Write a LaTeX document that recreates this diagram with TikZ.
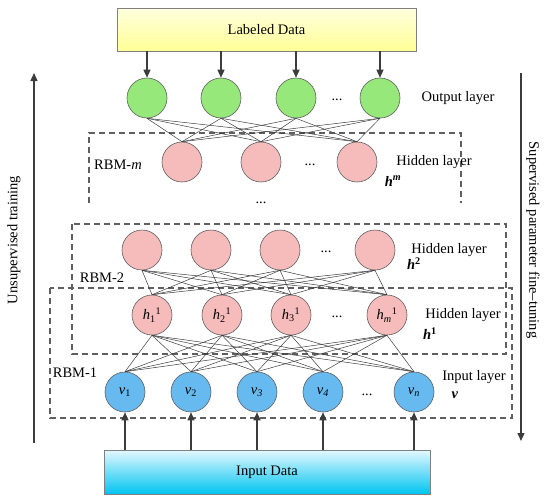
\documentclass[tikz,border=0pt]{standalone}
\usepackage{fontspec}
\setmainfont{Liberation Serif}
\usetikzlibrary{arrows.meta, positioning}
\definecolor{outgreen}{RGB}{150,232,122}
\definecolor{hidpink}{RGB}{246,188,188}
\definecolor{inblue}{RGB}{102,186,240}
\definecolor{edgegray}{RGB}{60,60,60}
\definecolor{rimgray}{RGB}{95,95,95}
\definecolor{yellowtop}{RGB}{255,255,222}
\definecolor{yellowbot}{RGB}{255,255,150}
\definecolor{cyantop}{RGB}{228,248,255}
\definecolor{cyanmid}{RGB}{20,205,245}
\definecolor{cyanbot}{RGB}{0,196,240}

\begin{document}
\begin{tikzpicture}[x=1pt, y=-1pt, font=\fontsize{14.5}{16}\selectfont,
    unit/.style={circle, draw=rimgray, line width=0.6pt, minimum size=40pt, inner sep=0pt},
    outunit/.style={unit, fill=outgreen},
    hidunit/.style={unit, fill=hidpink},
    inunit/.style={unit, fill=inblue},
    link/.style={draw=edgegray, line width=0.5pt},
    feed/.style={draw=edgegray, line width=1.4pt, -{Triangle[length=8pt, width=7pt]}},
    rbmbox/.style={draw=rimgray, line width=1.1pt, dash pattern=on 6pt off 4pt},
    databox/.style={draw=gray, line width=0.6pt, rectangle, inner sep=0pt}]
    \useasboundingbox (0,0) rectangle (550,501);

    % Hộp dữ liệu có nhãn ở trên cùng
    \node[databox, top color=yellowtop, bottom color=yellowbot, minimum width=299pt, minimum height=43pt] (labeled) at (266.5,29.5) {Labeled Data};

    % Lớp đầu ra (xanh lá)
    \foreach \i/\x in {1/147, 2/221, 3/296, 4/380}
        \node[outunit] (g\i) at (\x,98) {};
    \node (gdots) at (337,100) {...};
    \node (glabel) at (458,98) {Output layer};

    % RBM-m: hộp nét đứt hở phía dưới
    \coordinate (mbl) at (89,203);
    \coordinate (mtl) at (89,133);
    \coordinate (mtr) at (461,133);
    \coordinate (mbr) at (461,203);
    \draw[rbmbox] (mbl) -- (mtl) -- (mtr) -- (mbr);
    \foreach \i/\x in {1/182, 2/261, 3/357}
        \node[hidunit] (m\i) at (\x,162) {};
    \node (mdots) at (310,165) {...};
    \node (mlabel) at (434,162) {Hidden layer};
    \node (mvar) at (393,181) {\textbf{\textit{h}\textsuperscript{\textit{m}}}};
    \node (mname) at (118,165) {RBM-\textit{m}};
    \node (stackdots) at (261,203) {...};

    % RBM-2 và RBM-1
    \draw[rbmbox] (72,224) rectangle (506,354);
    \draw[rbmbox] (50,288) rectangle (512,418);

    % Lớp ẩn h^2
    \foreach \i/\x in {1/142, 2/211, 3/280, 4/375}
        \node[hidunit] (s\i) at (\x,250) {};
    \node (sdots) at (326,252) {...};
    \node (slabel) at (449,250) {Hidden layer};
    \node (svar) at (414,264) {\textbf{\textit{h}\textsuperscript{2}}};
    \node (sname) at (102,278) {RBM-2};

    % Lớp ẩn h^1
    \foreach \i/\x/\t in {1/152/1, 2/222/2, 3/291/3, 4/387/\textit{m}}
        \node[hidunit] (f\i) at (\x,315) {\textit{h}\textsubscript{\t}\textsuperscript{1}};
    \node (fdots) at (337,317) {...};
    \node (flabel) at (463,315) {Hidden layer};
    \node (fvar) at (430,334) {\textbf{\textit{h}\textsuperscript{1}}};
    \node (fname) at (75,373) {RBM-1};

    % Lớp đầu vào (xanh dương)
    \foreach \i/\x/\t in {1/125/1, 2/191/2, 3/257/\textit{3}, 4/323/\textit{4}, 5/414/\textit{n}}
        \node[inunit] (v\i) at (\x,392) {\textit{v}\textsubscript{\t}};
    \node (vdots) at (367,395) {...};
    \node (vlabel) at (474,377) {Input layer};
    \node (vvar) at (455,395) {\textbf{\textit{v}}};

    % Hộp dữ liệu đầu vào
    \node[databox, top color=cyantop, middle color=cyanmid, bottom color=cyanbot, minimum width=326pt, minimum height=44pt] (indata) at (267,472) {Input Data};

    % Các liên kết giữa các lớp
    \foreach \a in {1,...,4}
        \foreach \b in {1,...,3}
            \draw[link] (g\a.south) -- (m\b.north);
    \foreach \a in {1,...,4}
        \foreach \b in {1,...,4}
            \draw[link] (s\a.south) -- (f\b.north);
    \foreach \a in {1,...,4}
        \foreach \b in {1,...,5}
            \draw[link] (f\a.south) -- (v\b.north);

    % Mũi tên dữ liệu
    \foreach \i in {1,...,4}
        \draw[feed] (g\i |- labeled.south) -- (g\i.north);
    \foreach \i in {1,...,5}
        \draw[feed] (v\i |- indata.north) -- (v\i.south);

    % Mũi tên hai bên
    \coordinate (upbot) at (34,443);
    \coordinate (uptop) at (34,73);
    \draw[feed] (upbot) -- (uptop);
    \node[rotate=90] (uptext) at (14,240) {Unsupervised training};
    \coordinate (downtop) at (521,73);
    \coordinate (downbot) at (521,441);
    \draw[feed] (downtop) -- (downbot);
    \node[rotate=-90] (downtext) at (533,240) {Supervised parameter fine--tuning};
\end{tikzpicture}
\end{document}
